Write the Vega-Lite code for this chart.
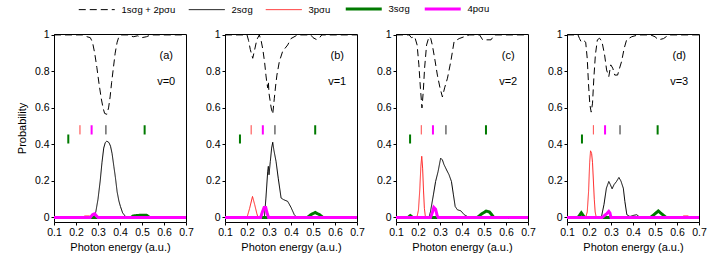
{
  "$schema": "https://vega.github.io/schema/vega-lite/v6.json",
  "padding": {"left": 15, "right": 5, "top": 4, "bottom": 3},
  "bounds": "flush",
  "spacing": 39,
  "datasets": {
    "curves": [
      {"panel":"a","series":"1sσg + 2pσu","x":0.1,"y":1},{"panel":"a","series":"1sσg + 2pσu","x":0.23,"y":1},{"panel":"a","series":"1sσg + 2pσu","x":0.25,"y":0.99},{"panel":"a","series":"1sσg + 2pσu","x":0.265,"y":0.985},{"panel":"a","series":"1sσg + 2pσu","x":0.275,"y":0.96},{"panel":"a","series":"1sσg + 2pσu","x":0.285,"y":0.9},{"panel":"a","series":"1sσg + 2pσu","x":0.295,"y":0.82},{"panel":"a","series":"1sσg + 2pσu","x":0.305,"y":0.73},{"panel":"a","series":"1sσg + 2pσu","x":0.315,"y":0.65},{"panel":"a","series":"1sσg + 2pσu","x":0.323,"y":0.6},{"panel":"a","series":"1sσg + 2pσu","x":0.33,"y":0.57},{"panel":"a","series":"1sσg + 2pσu","x":0.34,"y":0.565},{"panel":"a","series":"1sσg + 2pσu","x":0.348,"y":0.6},{"panel":"a","series":"1sσg + 2pσu","x":0.355,"y":0.66},{"panel":"a","series":"1sσg + 2pσu","x":0.362,"y":0.74},{"panel":"a","series":"1sσg + 2pσu","x":0.37,"y":0.82},{"panel":"a","series":"1sσg + 2pσu","x":0.378,"y":0.9},{"panel":"a","series":"1sσg + 2pσu","x":0.387,"y":0.96},{"panel":"a","series":"1sσg + 2pσu","x":0.395,"y":0.99},{"panel":"a","series":"1sσg + 2pσu","x":0.405,"y":1},{"panel":"a","series":"1sσg + 2pσu","x":0.44,"y":1},{"panel":"a","series":"1sσg + 2pσu","x":0.46,"y":0.99},{"panel":"a","series":"1sσg + 2pσu","x":0.48,"y":0.995},{"panel":"a","series":"1sσg + 2pσu","x":0.5,"y":0.985},{"panel":"a","series":"1sσg + 2pσu","x":0.52,"y":0.99},{"panel":"a","series":"1sσg + 2pσu","x":0.54,"y":1},{"panel":"a","series":"1sσg + 2pσu","x":0.7,"y":1},
      {"panel":"a","series":"2sσg","x":0.1,"y":0},{"panel":"a","series":"2sσg","x":0.28,"y":0},{"panel":"a","series":"2sσg","x":0.29,"y":0.03},{"panel":"a","series":"2sσg","x":0.3,"y":0.1},{"panel":"a","series":"2sσg","x":0.31,"y":0.2},{"panel":"a","series":"2sσg","x":0.318,"y":0.3},{"panel":"a","series":"2sσg","x":0.326,"y":0.38},{"panel":"a","series":"2sσg","x":0.333,"y":0.41},{"panel":"a","series":"2sσg","x":0.34,"y":0.418},{"panel":"a","series":"2sσg","x":0.35,"y":0.41},{"panel":"a","series":"2sσg","x":0.357,"y":0.39},{"panel":"a","series":"2sσg","x":0.364,"y":0.35},{"panel":"a","series":"2sσg","x":0.372,"y":0.28},{"panel":"a","series":"2sσg","x":0.379,"y":0.22},{"panel":"a","series":"2sσg","x":0.387,"y":0.14},{"panel":"a","series":"2sσg","x":0.395,"y":0.09},{"panel":"a","series":"2sσg","x":0.402,"y":0.06},{"panel":"a","series":"2sσg","x":0.412,"y":0.025},{"panel":"a","series":"2sσg","x":0.425,"y":0.005},{"panel":"a","series":"2sσg","x":0.44,"y":0},{"panel":"a","series":"2sσg","x":0.7,"y":0},
      {"panel":"a","series":"3pσu","x":0.1,"y":0},{"panel":"a","series":"3pσu","x":0.23,"y":0},{"panel":"a","series":"3pσu","x":0.24,"y":0.008},{"panel":"a","series":"3pσu","x":0.26,"y":0.008},{"panel":"a","series":"3pσu","x":0.27,"y":0},{"panel":"a","series":"3pσu","x":0.7,"y":0},
      {"panel":"a","series":"3sσg","x":0.1,"y":0},{"panel":"a","series":"3sσg","x":0.45,"y":0},{"panel":"a","series":"3sσg","x":0.46,"y":0.008},{"panel":"a","series":"3sσg","x":0.49,"y":0.012},{"panel":"a","series":"3sσg","x":0.52,"y":0.012},{"panel":"a","series":"3sσg","x":0.535,"y":0},{"panel":"a","series":"3sσg","x":0.7,"y":0},
      {"panel":"a","series":"4pσu","x":0.1,"y":0},{"panel":"a","series":"4pσu","x":0.265,"y":0},{"panel":"a","series":"4pσu","x":0.275,"y":0.015},{"panel":"a","series":"4pσu","x":0.285,"y":0.02},{"panel":"a","series":"4pσu","x":0.295,"y":0.005},{"panel":"a","series":"4pσu","x":0.3,"y":0},{"panel":"a","series":"4pσu","x":0.7,"y":0},

      {"panel":"b","series":"1sσg + 2pσu","x":0.1,"y":1},{"panel":"b","series":"1sσg + 2pσu","x":0.2,"y":1},{"panel":"b","series":"1sσg + 2pσu","x":0.207,"y":0.97},{"panel":"b","series":"1sσg + 2pσu","x":0.215,"y":0.92},{"panel":"b","series":"1sσg + 2pσu","x":0.226,"y":0.872},{"panel":"b","series":"1sσg + 2pσu","x":0.235,"y":0.92},{"panel":"b","series":"1sσg + 2pσu","x":0.245,"y":0.975},{"panel":"b","series":"1sσg + 2pσu","x":0.256,"y":1},{"panel":"b","series":"1sσg + 2pσu","x":0.264,"y":0.97},{"panel":"b","series":"1sσg + 2pσu","x":0.272,"y":0.92},{"panel":"b","series":"1sσg + 2pσu","x":0.28,"y":0.85},{"panel":"b","series":"1sσg + 2pσu","x":0.286,"y":0.78},{"panel":"b","series":"1sσg + 2pσu","x":0.29,"y":0.74},{"panel":"b","series":"1sσg + 2pσu","x":0.294,"y":0.71},{"panel":"b","series":"1sσg + 2pσu","x":0.297,"y":0.745},{"panel":"b","series":"1sσg + 2pσu","x":0.3,"y":0.68},{"panel":"b","series":"1sσg + 2pσu","x":0.305,"y":0.64},{"panel":"b","series":"1sσg + 2pσu","x":0.31,"y":0.6},{"panel":"b","series":"1sσg + 2pσu","x":0.317,"y":0.566},{"panel":"b","series":"1sσg + 2pσu","x":0.324,"y":0.65},{"panel":"b","series":"1sσg + 2pσu","x":0.33,"y":0.72},{"panel":"b","series":"1sσg + 2pσu","x":0.336,"y":0.78},{"panel":"b","series":"1sσg + 2pσu","x":0.347,"y":0.854},{"panel":"b","series":"1sσg + 2pσu","x":0.362,"y":0.91},{"panel":"b","series":"1sσg + 2pσu","x":0.385,"y":0.945},{"panel":"b","series":"1sσg + 2pσu","x":0.4,"y":0.98},{"panel":"b","series":"1sσg + 2pσu","x":0.43,"y":1},{"panel":"b","series":"1sσg + 2pσu","x":0.49,"y":1},{"panel":"b","series":"1sσg + 2pσu","x":0.5,"y":0.985},{"panel":"b","series":"1sσg + 2pσu","x":0.515,"y":0.975},{"panel":"b","series":"1sσg + 2pσu","x":0.53,"y":0.985},{"panel":"b","series":"1sσg + 2pσu","x":0.54,"y":1},{"panel":"b","series":"1sσg + 2pσu","x":0.7,"y":1},
      {"panel":"b","series":"2sσg","x":0.1,"y":0},{"panel":"b","series":"2sσg","x":0.279,"y":0},{"panel":"b","series":"2sσg","x":0.286,"y":0.106},{"panel":"b","series":"2sσg","x":0.294,"y":0.25},{"panel":"b","series":"2sσg","x":0.297,"y":0.28},{"panel":"b","series":"2sσg","x":0.3,"y":0.234},{"panel":"b","series":"2sσg","x":0.306,"y":0.307},{"panel":"b","series":"2sσg","x":0.312,"y":0.38},{"panel":"b","series":"2sσg","x":0.317,"y":0.412},{"panel":"b","series":"2sσg","x":0.322,"y":0.37},{"panel":"b","series":"2sσg","x":0.332,"y":0.307},{"panel":"b","series":"2sσg","x":0.342,"y":0.215},{"panel":"b","series":"2sσg","x":0.355,"y":0.106},{"panel":"b","series":"2sσg","x":0.367,"y":0.097},{"panel":"b","series":"2sσg","x":0.385,"y":0.088},{"panel":"b","series":"2sσg","x":0.4,"y":0.055},{"panel":"b","series":"2sσg","x":0.415,"y":0.015},{"panel":"b","series":"2sσg","x":0.427,"y":0},{"panel":"b","series":"2sσg","x":0.7,"y":0},
      {"panel":"b","series":"3pσu","x":0.1,"y":0},{"panel":"b","series":"3pσu","x":0.2,"y":0},{"panel":"b","series":"3pσu","x":0.212,"y":0.05},{"panel":"b","series":"3pσu","x":0.225,"y":0.115},{"panel":"b","series":"3pσu","x":0.235,"y":0.07},{"panel":"b","series":"3pσu","x":0.245,"y":0.02},{"panel":"b","series":"3pσu","x":0.25,"y":0},{"panel":"b","series":"3pσu","x":0.7,"y":0},
      {"panel":"b","series":"3sσg","x":0.1,"y":0},{"panel":"b","series":"3sσg","x":0.475,"y":0},{"panel":"b","series":"3sσg","x":0.49,"y":0.015},{"panel":"b","series":"3sσg","x":0.51,"y":0.027},{"panel":"b","series":"3sσg","x":0.53,"y":0.015},{"panel":"b","series":"3sσg","x":0.545,"y":0},{"panel":"b","series":"3sσg","x":0.7,"y":0},
      {"panel":"b","series":"4pσu","x":0.1,"y":0},{"panel":"b","series":"4pσu","x":0.262,"y":0},{"panel":"b","series":"4pσu","x":0.27,"y":0.03},{"panel":"b","series":"4pσu","x":0.278,"y":0.055},{"panel":"b","series":"4pσu","x":0.285,"y":0.055},{"panel":"b","series":"4pσu","x":0.292,"y":0.02},{"panel":"b","series":"4pσu","x":0.298,"y":0},{"panel":"b","series":"4pσu","x":0.7,"y":0},

      {"panel":"c","series":"1sσg + 2pσu","x":0.1,"y":1},{"panel":"c","series":"1sσg + 2pσu","x":0.16,"y":1},{"panel":"c","series":"1sσg + 2pσu","x":0.17,"y":0.985},{"panel":"c","series":"1sσg + 2pσu","x":0.185,"y":0.99},{"panel":"c","series":"1sσg + 2pσu","x":0.196,"y":0.945},{"panel":"c","series":"1sσg + 2pσu","x":0.204,"y":0.836},{"panel":"c","series":"1sσg + 2pσu","x":0.211,"y":0.708},{"panel":"c","series":"1sσg + 2pσu","x":0.218,"y":0.6},{"panel":"c","series":"1sσg + 2pσu","x":0.224,"y":0.69},{"panel":"c","series":"1sσg + 2pσu","x":0.23,"y":0.818},{"panel":"c","series":"1sσg + 2pσu","x":0.239,"y":0.945},{"panel":"c","series":"1sσg + 2pσu","x":0.25,"y":0.99},{"panel":"c","series":"1sσg + 2pσu","x":0.258,"y":0.98},{"panel":"c","series":"1sσg + 2pσu","x":0.265,"y":0.945},{"panel":"c","series":"1sσg + 2pσu","x":0.276,"y":0.87},{"panel":"c","series":"1sσg + 2pσu","x":0.288,"y":0.78},{"panel":"c","series":"1sσg + 2pσu","x":0.3,"y":0.71},{"panel":"c","series":"1sσg + 2pσu","x":0.311,"y":0.66},{"panel":"c","series":"1sσg + 2pσu","x":0.321,"y":0.71},{"panel":"c","series":"1sσg + 2pσu","x":0.334,"y":0.763},{"panel":"c","series":"1sσg + 2pσu","x":0.349,"y":0.854},{"panel":"c","series":"1sσg + 2pσu","x":0.364,"y":0.963},{"panel":"c","series":"1sσg + 2pσu","x":0.387,"y":0.98},{"panel":"c","series":"1sσg + 2pσu","x":0.41,"y":0.99},{"panel":"c","series":"1sσg + 2pσu","x":0.433,"y":1},{"panel":"c","series":"1sσg + 2pσu","x":0.48,"y":1},{"panel":"c","series":"1sσg + 2pσu","x":0.494,"y":0.973},{"panel":"c","series":"1sσg + 2pσu","x":0.532,"y":0.973},{"panel":"c","series":"1sσg + 2pσu","x":0.547,"y":1},{"panel":"c","series":"1sσg + 2pσu","x":0.7,"y":1},
      {"panel":"c","series":"2sσg","x":0.1,"y":0},{"panel":"c","series":"2sσg","x":0.25,"y":0},{"panel":"c","series":"2sσg","x":0.257,"y":0.033},{"panel":"c","series":"2sσg","x":0.27,"y":0.124},{"panel":"c","series":"2sσg","x":0.28,"y":0.197},{"panel":"c","series":"2sσg","x":0.291,"y":0.25},{"panel":"c","series":"2sσg","x":0.303,"y":0.325},{"panel":"c","series":"2sσg","x":0.311,"y":0.315},{"panel":"c","series":"2sσg","x":0.318,"y":0.29},{"panel":"c","series":"2sσg","x":0.33,"y":0.26},{"panel":"c","series":"2sσg","x":0.341,"y":0.234},{"panel":"c","series":"2sσg","x":0.352,"y":0.197},{"panel":"c","series":"2sσg","x":0.361,"y":0.124},{"panel":"c","series":"2sσg","x":0.369,"y":0.06},{"panel":"c","series":"2sσg","x":0.379,"y":0.042},{"panel":"c","series":"2sσg","x":0.395,"y":0.036},{"panel":"c","series":"2sσg","x":0.41,"y":0.015},{"panel":"c","series":"2sσg","x":0.425,"y":0.005},{"panel":"c","series":"2sσg","x":0.44,"y":0},{"panel":"c","series":"2sσg","x":0.7,"y":0},
      {"panel":"c","series":"3pσu","x":0.1,"y":0},{"panel":"c","series":"3pσu","x":0.195,"y":0},{"panel":"c","series":"3pσu","x":0.202,"y":0.04},{"panel":"c","series":"3pσu","x":0.208,"y":0.15},{"panel":"c","series":"3pσu","x":0.213,"y":0.28},{"panel":"c","series":"3pσu","x":0.217,"y":0.335},{"panel":"c","series":"3pσu","x":0.221,"y":0.27},{"panel":"c","series":"3pσu","x":0.225,"y":0.15},{"panel":"c","series":"3pσu","x":0.229,"y":0.05},{"panel":"c","series":"3pσu","x":0.234,"y":0},{"panel":"c","series":"3pσu","x":0.7,"y":0},
      {"panel":"c","series":"3sσg","x":0.1,"y":0},{"panel":"c","series":"3sσg","x":0.155,"y":0},{"panel":"c","series":"3sσg","x":0.165,"y":0.01},{"panel":"c","series":"3sσg","x":0.175,"y":0},{"panel":"c","series":"3sσg","x":0.47,"y":0},{"panel":"c","series":"3sσg","x":0.49,"y":0.02},{"panel":"c","series":"3sσg","x":0.51,"y":0.035},{"panel":"c","series":"3sσg","x":0.525,"y":0.03},{"panel":"c","series":"3sσg","x":0.545,"y":0},{"panel":"c","series":"3sσg","x":0.7,"y":0},
      {"panel":"c","series":"4pσu","x":0.1,"y":0},{"panel":"c","series":"4pσu","x":0.257,"y":0},{"panel":"c","series":"4pσu","x":0.265,"y":0.025},{"panel":"c","series":"4pσu","x":0.272,"y":0.055},{"panel":"c","series":"4pσu","x":0.28,"y":0.045},{"panel":"c","series":"4pσu","x":0.287,"y":0.01},{"panel":"c","series":"4pσu","x":0.292,"y":0},{"panel":"c","series":"4pσu","x":0.7,"y":0},

      {"panel":"d","series":"1sσg + 2pσu","x":0.1,"y":1},{"panel":"d","series":"1sσg + 2pσu","x":0.15,"y":1},{"panel":"d","series":"1sσg + 2pσu","x":0.157,"y":0.98},{"panel":"d","series":"1sσg + 2pσu","x":0.164,"y":0.963},{"panel":"d","series":"1sσg + 2pσu","x":0.175,"y":0.97},{"panel":"d","series":"1sσg + 2pσu","x":0.185,"y":0.96},{"panel":"d","series":"1sσg + 2pσu","x":0.192,"y":0.87},{"panel":"d","series":"1sσg + 2pσu","x":0.198,"y":0.726},{"panel":"d","series":"1sσg + 2pσu","x":0.204,"y":0.617},{"panel":"d","series":"1sσg + 2pσu","x":0.21,"y":0.577},{"panel":"d","series":"1sσg + 2pσu","x":0.216,"y":0.626},{"panel":"d","series":"1sσg + 2pσu","x":0.222,"y":0.763},{"panel":"d","series":"1sσg + 2pσu","x":0.229,"y":0.89},{"panel":"d","series":"1sσg + 2pσu","x":0.238,"y":0.973},{"panel":"d","series":"1sσg + 2pσu","x":0.248,"y":0.982},{"panel":"d","series":"1sσg + 2pσu","x":0.259,"y":0.963},{"panel":"d","series":"1sσg + 2pσu","x":0.271,"y":0.89},{"panel":"d","series":"1sσg + 2pσu","x":0.28,"y":0.808},{"panel":"d","series":"1sσg + 2pσu","x":0.29,"y":0.772},{"panel":"d","series":"1sσg + 2pσu","x":0.299,"y":0.836},{"panel":"d","series":"1sσg + 2pσu","x":0.308,"y":0.818},{"panel":"d","series":"1sσg + 2pσu","x":0.317,"y":0.78},{"panel":"d","series":"1sσg + 2pσu","x":0.33,"y":0.78},{"panel":"d","series":"1sσg + 2pσu","x":0.337,"y":0.81},{"panel":"d","series":"1sσg + 2pσu","x":0.348,"y":0.854},{"panel":"d","series":"1sσg + 2pσu","x":0.36,"y":0.927},{"panel":"d","series":"1sσg + 2pσu","x":0.371,"y":0.973},{"panel":"d","series":"1sσg + 2pσu","x":0.394,"y":0.99},{"panel":"d","series":"1sσg + 2pσu","x":0.424,"y":1},{"panel":"d","series":"1sσg + 2pσu","x":0.48,"y":1},{"panel":"d","series":"1sσg + 2pσu","x":0.5,"y":0.99},{"panel":"d","series":"1sσg + 2pσu","x":0.516,"y":0.973},{"panel":"d","series":"1sσg + 2pσu","x":0.539,"y":0.98},{"panel":"d","series":"1sσg + 2pσu","x":0.562,"y":1},{"panel":"d","series":"1sσg + 2pσu","x":0.7,"y":1},
      {"panel":"d","series":"2sσg","x":0.1,"y":0},{"panel":"d","series":"2sσg","x":0.256,"y":0},{"panel":"d","series":"2sσg","x":0.268,"y":0.07},{"panel":"d","series":"2sσg","x":0.279,"y":0.16},{"panel":"d","series":"2sσg","x":0.29,"y":0.197},{"panel":"d","series":"2sσg","x":0.297,"y":0.18},{"panel":"d","series":"2sσg","x":0.305,"y":0.157},{"panel":"d","series":"2sσg","x":0.314,"y":0.18},{"panel":"d","series":"2sσg","x":0.325,"y":0.197},{"panel":"d","series":"2sσg","x":0.336,"y":0.219},{"panel":"d","series":"2sσg","x":0.345,"y":0.2},{"panel":"d","series":"2sσg","x":0.356,"y":0.16},{"panel":"d","series":"2sσg","x":0.363,"y":0.088},{"panel":"d","series":"2sσg","x":0.372,"y":0.015},{"panel":"d","series":"2sσg","x":0.386,"y":0.005},{"panel":"d","series":"2sσg","x":0.401,"y":0.011},{"panel":"d","series":"2sσg","x":0.417,"y":0.015},{"panel":"d","series":"2sσg","x":0.432,"y":0},{"panel":"d","series":"2sσg","x":0.7,"y":0},
      {"panel":"d","series":"3pσu","x":0.1,"y":0},{"panel":"d","series":"3pσu","x":0.185,"y":0},{"panel":"d","series":"3pσu","x":0.192,"y":0.03},{"panel":"d","series":"3pσu","x":0.198,"y":0.14},{"panel":"d","series":"3pσu","x":0.203,"y":0.3},{"panel":"d","series":"3pσu","x":0.207,"y":0.365},{"panel":"d","series":"3pσu","x":0.212,"y":0.35},{"panel":"d","series":"3pσu","x":0.216,"y":0.3},{"panel":"d","series":"3pσu","x":0.22,"y":0.2},{"panel":"d","series":"3pσu","x":0.224,"y":0.1},{"panel":"d","series":"3pσu","x":0.228,"y":0.03},{"panel":"d","series":"3pσu","x":0.233,"y":0},{"panel":"d","series":"3pσu","x":0.62,"y":0},{"panel":"d","series":"3pσu","x":0.63,"y":0.008},{"panel":"d","series":"3pσu","x":0.65,"y":0.008},{"panel":"d","series":"3pσu","x":0.66,"y":0},{"panel":"d","series":"3pσu","x":0.7,"y":0},
      {"panel":"d","series":"3sσg","x":0.1,"y":0},{"panel":"d","series":"3sσg","x":0.15,"y":0},{"panel":"d","series":"3sσg","x":0.165,"y":0.025},{"panel":"d","series":"3sσg","x":0.18,"y":0},{"panel":"d","series":"3sσg","x":0.48,"y":0},{"panel":"d","series":"3sσg","x":0.5,"y":0.02},{"panel":"d","series":"3sσg","x":0.515,"y":0.035},{"panel":"d","series":"3sσg","x":0.53,"y":0.02},{"panel":"d","series":"3sσg","x":0.55,"y":0},{"panel":"d","series":"3sσg","x":0.7,"y":0},
      {"panel":"d","series":"4pσu","x":0.1,"y":0},{"panel":"d","series":"4pσu","x":0.26,"y":0},{"panel":"d","series":"4pσu","x":0.27,"y":0.01},{"panel":"d","series":"4pσu","x":0.28,"y":0.02},{"panel":"d","series":"4pσu","x":0.29,"y":0.033},{"panel":"d","series":"4pσu","x":0.295,"y":0.025},{"panel":"d","series":"4pσu","x":0.3,"y":0},{"panel":"d","series":"4pσu","x":0.7,"y":0}
    ],
    "markers": [
      {"panel":"a","series":"3sσg","x":0.165,"y":0.405,"y2":0.455},{"panel":"a","series":"3pσu","x":0.218,"y":0.455,"y2":0.505},{"panel":"a","series":"4pσu","x":0.271,"y":0.455,"y2":0.505},{"panel":"a","series":"2sσg","x":0.336,"y":0.455,"y2":0.505},{"panel":"a","series":"3sσg","x":0.512,"y":0.455,"y2":0.505},
      {"panel":"b","series":"3sσg","x":0.168,"y":0.405,"y2":0.455},{"panel":"b","series":"3pσu","x":0.219,"y":0.455,"y2":0.505},{"panel":"b","series":"4pσu","x":0.272,"y":0.455,"y2":0.505},{"panel":"b","series":"2sσg","x":0.327,"y":0.455,"y2":0.505},{"panel":"b","series":"3sσg","x":0.51,"y":0.455,"y2":0.505},
      {"panel":"c","series":"3sσg","x":0.164,"y":0.405,"y2":0.455},{"panel":"c","series":"3pσu","x":0.215,"y":0.455,"y2":0.505},{"panel":"c","series":"4pσu","x":0.268,"y":0.455,"y2":0.505},{"panel":"c","series":"2sσg","x":0.327,"y":0.455,"y2":0.505},{"panel":"c","series":"3sσg","x":0.509,"y":0.455,"y2":0.505},
      {"panel":"d","series":"3sσg","x":0.168,"y":0.405,"y2":0.455},{"panel":"d","series":"3pσu","x":0.22,"y":0.455,"y2":0.505},{"panel":"d","series":"4pσu","x":0.273,"y":0.455,"y2":0.505},{"panel":"d","series":"2sσg","x":0.341,"y":0.455,"y2":0.505},{"panel":"d","series":"3sσg","x":0.512,"y":0.455,"y2":0.505}
    ],
    "labels": [
      {"panel":"a","x":0.61,"y":0.885,"text":"(a)"},{"panel":"a","x":0.61,"y":0.74,"text":"v=0"},
      {"panel":"b","x":0.61,"y":0.885,"text":"(b)"},{"panel":"b","x":0.61,"y":0.74,"text":"v=1"},
      {"panel":"c","x":0.61,"y":0.885,"text":"(c)"},{"panel":"c","x":0.61,"y":0.74,"text":"v=2"},
      {"panel":"d","x":0.61,"y":0.885,"text":"(d)"},{"panel":"d","x":0.61,"y":0.74,"text":"v=3"}
    ]
  },
  "config": {
    "font": "Liberation Sans",
    "view": {"stroke": "#000000", "strokeWidth": 1},
    "axis": {"grid": false, "domain": false, "tickColor": "#000000", "tickSize": 3, "labelColor": "#000000", "labelFont": "Liberation Sans", "labelFontSize": 10.5, "labelFlush": false, "labelPadding": 2, "titleFont": "Liberation Sans", "titleFontSize": 11, "titleFontWeight": "normal", "titleColor": "#000000"},
    "axisX": {"titlePadding": 4, "labelOverlap": false},
    "axisY": {"titlePadding": 7},
    "legend": {"orient": "none", "legendX": 20, "legendY": -30, "direction": "horizontal", "symbolType": "M0,0H36", "symbolSize": 4, "labelFont": "Liberation Sans", "labelFontSize": 9.5, "labelColor": "#000000", "columnPadding": 8, "labelOffset": 38, "padding": 0}
  },
  "hconcat": [
    {
      "width": 132, "height": 188,
      "encoding": {
        "x": {"field": "x", "type": "quantitative", "scale": {"domain": [0.1, 0.7], "nice": false, "zero": false}, "axis": {"values": [0.1, 0.2, 0.3, 0.4, 0.5, 0.6, 0.7], "format": "~g", "title": "Photon energy (a.u.)"}},
        "y": {"field": "y", "type": "quantitative", "scale": {"domain": [-0.025, 1.005], "nice": false, "zero": false}, "axis": {"values": [0, 0.2, 0.4, 0.6, 0.8, 1], "format": "~g", "title": "Probability"}},
        "color": {"field": "series", "type": "nominal", "scale": {"domain": ["1sσg + 2pσu", "2sσg", "3pσu", "3sσg", "4pσu"], "range": ["#000000", "#000000", "#ff2020", "#007a00", "#ff00ff"]}, "legend": {"title": null, "encode": {"symbols": {"update": {"strokeWidth": {"signal": "datum.value === '3sσg' || datum.value === '4pσu' ? 3 : 1"}}}}}},
        "strokeDash": {"field": "series", "type": "nominal", "scale": {"domain": ["1sσg + 2pσu", "2sσg", "3pσu", "3sσg", "4pσu"], "range": [[7, 4], [1, 0], [1, 0], [1, 0], [1, 0]]}, "legend": {"title": null}}
      },
      "layer": [
        {"data": {"name": "curves"}, "transform": [{"filter": "datum.panel === 'a' && datum.series !== '3sσg' && datum.series !== '4pσu'"}], "mark": {"type": "line", "clip": true, "strokeWidth": 1}},
        {"data": {"name": "curves"}, "transform": [{"filter": "datum.panel === 'a' && datum.series === '3sσg'"}], "mark": {"type": "line", "clip": true, "strokeWidth": 3}},
        {"data": {"name": "curves"}, "transform": [{"filter": "datum.panel === 'a' && datum.series === '4pσu'"}], "mark": {"type": "line", "clip": true, "strokeWidth": 3}},
        {"data": {"name": "markers"}, "transform": [{"filter": "datum.panel === 'a' && datum.series !== '3sσg' && datum.series !== '4pσu'"}], "mark": {"type": "rule", "strokeWidth": 1}, "encoding": {"y2": {"field": "y2"}, "strokeDash": {"value": [1, 0]}}},
        {"data": {"name": "markers"}, "transform": [{"filter": "datum.panel === 'a' && (datum.series === '3sσg' || datum.series === '4pσu')"}], "mark": {"type": "rule", "strokeWidth": 2}, "encoding": {"y2": {"field": "y2"}, "strokeDash": {"value": [1, 0]}}},
        {"data": {"name": "labels"}, "transform": [{"filter": "datum.panel === 'a'"}], "mark": {"type": "text", "fontSize": 11, "align": "center", "baseline": "middle"}, "encoding": {"text": {"field": "text"}, "color": {"value": "#000000"}, "strokeDash": {"value": [1, 0]}}}
      ]
    },
    {
      "width": 132, "height": 188,
      "encoding": {
        "x": {"field": "x", "type": "quantitative", "scale": {"domain": [0.1, 0.7], "nice": false, "zero": false}, "axis": {"values": [0.1, 0.2, 0.3, 0.4, 0.5, 0.6, 0.7], "format": "~g", "title": "Photon energy (a.u.)"}},
        "y": {"field": "y", "type": "quantitative", "scale": {"domain": [-0.025, 1.005], "nice": false, "zero": false}, "axis": {"values": [0, 0.2, 0.4, 0.6, 0.8, 1], "format": "~g", "title": null}},
        "color": {"field": "series", "type": "nominal", "legend": {"title": null}},
        "strokeDash": {"field": "series", "type": "nominal", "legend": {"title": null}}
      },
      "layer": [
        {"data": {"name": "curves"}, "transform": [{"filter": "datum.panel === 'b' && datum.series !== '3sσg' && datum.series !== '4pσu'"}], "mark": {"type": "line", "clip": true, "strokeWidth": 1}},
        {"data": {"name": "curves"}, "transform": [{"filter": "datum.panel === 'b' && datum.series === '3sσg'"}], "mark": {"type": "line", "clip": true, "strokeWidth": 3}},
        {"data": {"name": "curves"}, "transform": [{"filter": "datum.panel === 'b' && datum.series === '4pσu'"}], "mark": {"type": "line", "clip": true, "strokeWidth": 3}},
        {"data": {"name": "markers"}, "transform": [{"filter": "datum.panel === 'b' && datum.series !== '3sσg' && datum.series !== '4pσu'"}], "mark": {"type": "rule", "strokeWidth": 1}, "encoding": {"y2": {"field": "y2"}, "strokeDash": {"value": [1, 0]}}},
        {"data": {"name": "markers"}, "transform": [{"filter": "datum.panel === 'b' && (datum.series === '3sσg' || datum.series === '4pσu')"}], "mark": {"type": "rule", "strokeWidth": 2}, "encoding": {"y2": {"field": "y2"}, "strokeDash": {"value": [1, 0]}}},
        {"data": {"name": "labels"}, "transform": [{"filter": "datum.panel === 'b'"}], "mark": {"type": "text", "fontSize": 11, "align": "center", "baseline": "middle"}, "encoding": {"text": {"field": "text"}, "color": {"value": "#000000"}, "strokeDash": {"value": [1, 0]}}}
      ]
    },
    {
      "width": 132, "height": 188,
      "encoding": {
        "x": {"field": "x", "type": "quantitative", "scale": {"domain": [0.1, 0.7], "nice": false, "zero": false}, "axis": {"values": [0.1, 0.2, 0.3, 0.4, 0.5, 0.6, 0.7], "format": "~g", "title": "Photon energy (a.u.)"}},
        "y": {"field": "y", "type": "quantitative", "scale": {"domain": [-0.025, 1.005], "nice": false, "zero": false}, "axis": {"values": [0, 0.2, 0.4, 0.6, 0.8, 1], "format": "~g", "title": null}},
        "color": {"field": "series", "type": "nominal", "legend": {"title": null}},
        "strokeDash": {"field": "series", "type": "nominal", "legend": {"title": null}}
      },
      "layer": [
        {"data": {"name": "curves"}, "transform": [{"filter": "datum.panel === 'c' && datum.series !== '3sσg' && datum.series !== '4pσu'"}], "mark": {"type": "line", "clip": true, "strokeWidth": 1}},
        {"data": {"name": "curves"}, "transform": [{"filter": "datum.panel === 'c' && datum.series === '3sσg'"}], "mark": {"type": "line", "clip": true, "strokeWidth": 3}},
        {"data": {"name": "curves"}, "transform": [{"filter": "datum.panel === 'c' && datum.series === '4pσu'"}], "mark": {"type": "line", "clip": true, "strokeWidth": 3}},
        {"data": {"name": "markers"}, "transform": [{"filter": "datum.panel === 'c' && datum.series !== '3sσg' && datum.series !== '4pσu'"}], "mark": {"type": "rule", "strokeWidth": 1}, "encoding": {"y2": {"field": "y2"}, "strokeDash": {"value": [1, 0]}}},
        {"data": {"name": "markers"}, "transform": [{"filter": "datum.panel === 'c' && (datum.series === '3sσg' || datum.series === '4pσu')"}], "mark": {"type": "rule", "strokeWidth": 2}, "encoding": {"y2": {"field": "y2"}, "strokeDash": {"value": [1, 0]}}},
        {"data": {"name": "labels"}, "transform": [{"filter": "datum.panel === 'c'"}], "mark": {"type": "text", "fontSize": 11, "align": "center", "baseline": "middle"}, "encoding": {"text": {"field": "text"}, "color": {"value": "#000000"}, "strokeDash": {"value": [1, 0]}}}
      ]
    },
    {
      "width": 132, "height": 188,
      "encoding": {
        "x": {"field": "x", "type": "quantitative", "scale": {"domain": [0.1, 0.7], "nice": false, "zero": false}, "axis": {"values": [0.1, 0.2, 0.3, 0.4, 0.5, 0.6, 0.7], "format": "~g", "title": "Photon energy (a.u.)"}},
        "y": {"field": "y", "type": "quantitative", "scale": {"domain": [-0.025, 1.005], "nice": false, "zero": false}, "axis": {"values": [0, 0.2, 0.4, 0.6, 0.8, 1], "format": "~g", "title": null}},
        "color": {"field": "series", "type": "nominal", "legend": {"title": null}},
        "strokeDash": {"field": "series", "type": "nominal", "legend": {"title": null}}
      },
      "layer": [
        {"data": {"name": "curves"}, "transform": [{"filter": "datum.panel === 'd' && datum.series !== '3sσg' && datum.series !== '4pσu'"}], "mark": {"type": "line", "clip": true, "strokeWidth": 1}},
        {"data": {"name": "curves"}, "transform": [{"filter": "datum.panel === 'd' && datum.series === '3sσg'"}], "mark": {"type": "line", "clip": true, "strokeWidth": 3}},
        {"data": {"name": "curves"}, "transform": [{"filter": "datum.panel === 'd' && datum.series === '4pσu'"}], "mark": {"type": "line", "clip": true, "strokeWidth": 3}},
        {"data": {"name": "markers"}, "transform": [{"filter": "datum.panel === 'd' && datum.series !== '3sσg' && datum.series !== '4pσu'"}], "mark": {"type": "rule", "strokeWidth": 1}, "encoding": {"y2": {"field": "y2"}, "strokeDash": {"value": [1, 0]}}},
        {"data": {"name": "markers"}, "transform": [{"filter": "datum.panel === 'd' && (datum.series === '3sσg' || datum.series === '4pσu')"}], "mark": {"type": "rule", "strokeWidth": 2}, "encoding": {"y2": {"field": "y2"}, "strokeDash": {"value": [1, 0]}}},
        {"data": {"name": "labels"}, "transform": [{"filter": "datum.panel === 'd'"}], "mark": {"type": "text", "fontSize": 11, "align": "center", "baseline": "middle"}, "encoding": {"text": {"field": "text"}, "color": {"value": "#000000"}, "strokeDash": {"value": [1, 0]}}}
      ]
    }
  ]
}
